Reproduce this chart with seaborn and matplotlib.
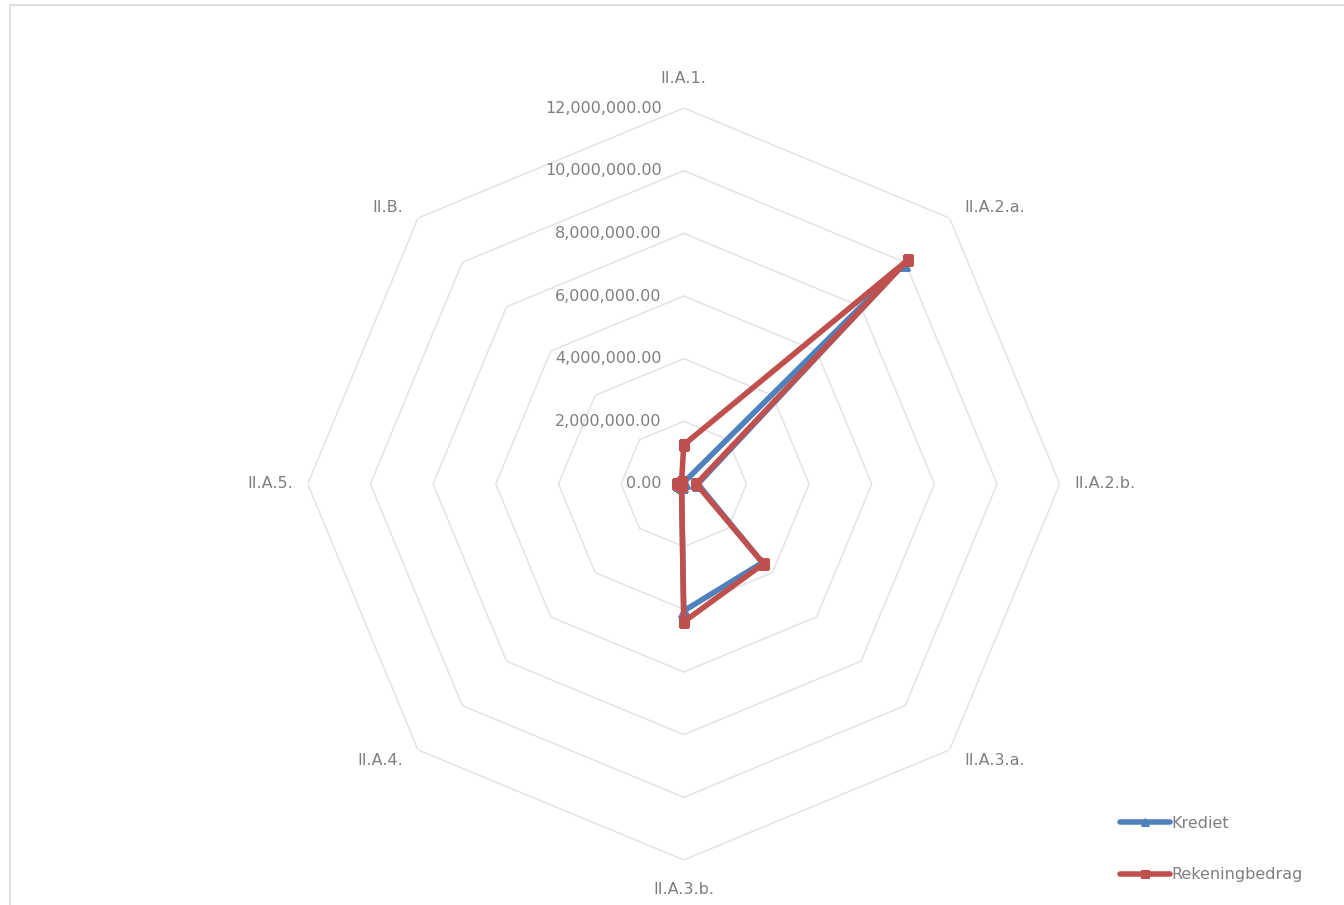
import matplotlib
matplotlib.use("Agg")
import matplotlib.pyplot as plt
import matplotlib.transforms as mtransforms
import numpy as np
import pandas as pd
import seaborn as sns

CATEGORIES = ["II.A.1.", "II.A.2.a.", "II.A.2.b.", "II.A.3.a.",
              "II.A.3.b.", "II.A.4.", "II.A.5.", "II.B."]
KREDIET = [0.05e6, 9.95e6, 0.45e6, 3.55e6, 4.05e6, 0.1e6, 0.15e6, 0.1e6]
REKENINGBEDRAG = [1.25e6, 10.1e6, 0.4e6, 3.6e6, 4.4e6, 0.1e6, 0.2e6, 0.1e6]
SERIES = {"Krediet": KREDIET, "Rekeningbedrag": REKENINGBEDRAG}
R_TICKS = [0, 2e6, 4e6, 6e6, 8e6, 10e6, 12e6]

BLUE = "#4F81BD"
RED = "#C0504D"
GRID = "#e3e3e3"
TEXT = "#7f7f7f"

sns.set_theme(style="white")
plt.rcParams["font.family"] = ["DejaVu Sans"]

theta = np.arange(len(CATEGORIES)) * 2 * np.pi / len(CATEGORIES)

rows = []
for name, vals in SERIES.items():
    for i, (t, v) in enumerate(zip(list(theta) + [theta[0] + 2 * np.pi], vals + vals[:1])):
        rows.append({"series": name, "order": i, "theta": t, "value": v})
df = pd.DataFrame(rows)

fig = plt.figure(figsize=(13.44, 9.05), dpi=100)
fig.patches.append(plt.Rectangle((10 / 1344, -0.01), 1.0, (905 - 5) / 905 + 0.01,
                                 transform=fig.transFigure, fill=False,
                                 edgecolor="#d9d9d9", lw=1.2))
ax = fig.add_axes([0.229, 0.0497, 0.5595, 0.831], projection="polar")
ax.set_theta_zero_location("N")
ax.set_theta_direction(-1)
ax.grid(False)
ax.spines["polar"].set_visible(False)
ax.set_xticks([])
ax.set_yticks([])
ax.patch.set_alpha(0)

# octagonal grid rings
closed = np.append(theta, theta[0])
for r in R_TICKS[1:]:
    ax.plot(closed, [r] * len(closed), color=GRID, lw=1.1, zorder=1)

sns.lineplot(data=df[df.series == "Krediet"], x="theta", y="value", sort=False,
             color=BLUE, lw=4, marker="^", markersize=8, markeredgecolor=BLUE,
             ax=ax, zorder=3, estimator=None, label="Krediet")
sns.lineplot(data=df[df.series == "Rekeningbedrag"], x="theta", y="value", sort=False,
             color=RED, lw=4, marker="s", markersize=7, markeredgecolor=RED,
             ax=ax, zorder=4, estimator=None, label="Rekeningbedrag")
ax.set_xlabel("")
ax.set_ylabel("")
ax.set_ylim(0, R_TICKS[-1])

# radial tick labels
for r in R_TICKS:
    tr = mtransforms.offset_copy(ax.transData, fig=fig, x=-22, y=0, units="dots")
    ax.text(0, r, f"{r:,.2f}", transform=tr, ha="right", va="center",
            fontsize=11.5, color=TEXT)

# category labels
for t, lab in zip(theta, CATEGORIES):
    s, c = np.round(np.sin(t), 3), np.round(np.cos(t), 3)
    dx = 15 * np.sign(s)
    dy = (30 if abs(c) > 0.99 else 11) * np.sign(c)
    ha = "left" if s > 0 else ("right" if s < 0 else "center")
    tr = mtransforms.offset_copy(ax.transData, fig=fig, x=dx, y=dy, units="dots")
    ax.text(t, R_TICKS[-1], lab, transform=tr, ha=ha, va="center",
            fontsize=11.5, color=TEXT)

handles, labels = ax.get_legend_handles_labels()
ax.get_legend().remove()
fig.legend(handles, labels, loc="center left", bbox_to_anchor=(1112 / 1344, 1 - 849 / 905),
           frameon=False, fontsize=11.5, labelcolor=TEXT, handlelength=3.1,
           handletextpad=0.1, labelspacing=2.3, borderpad=0, markerscale=0.8)

fig.savefig("out.png", dpi=100)
